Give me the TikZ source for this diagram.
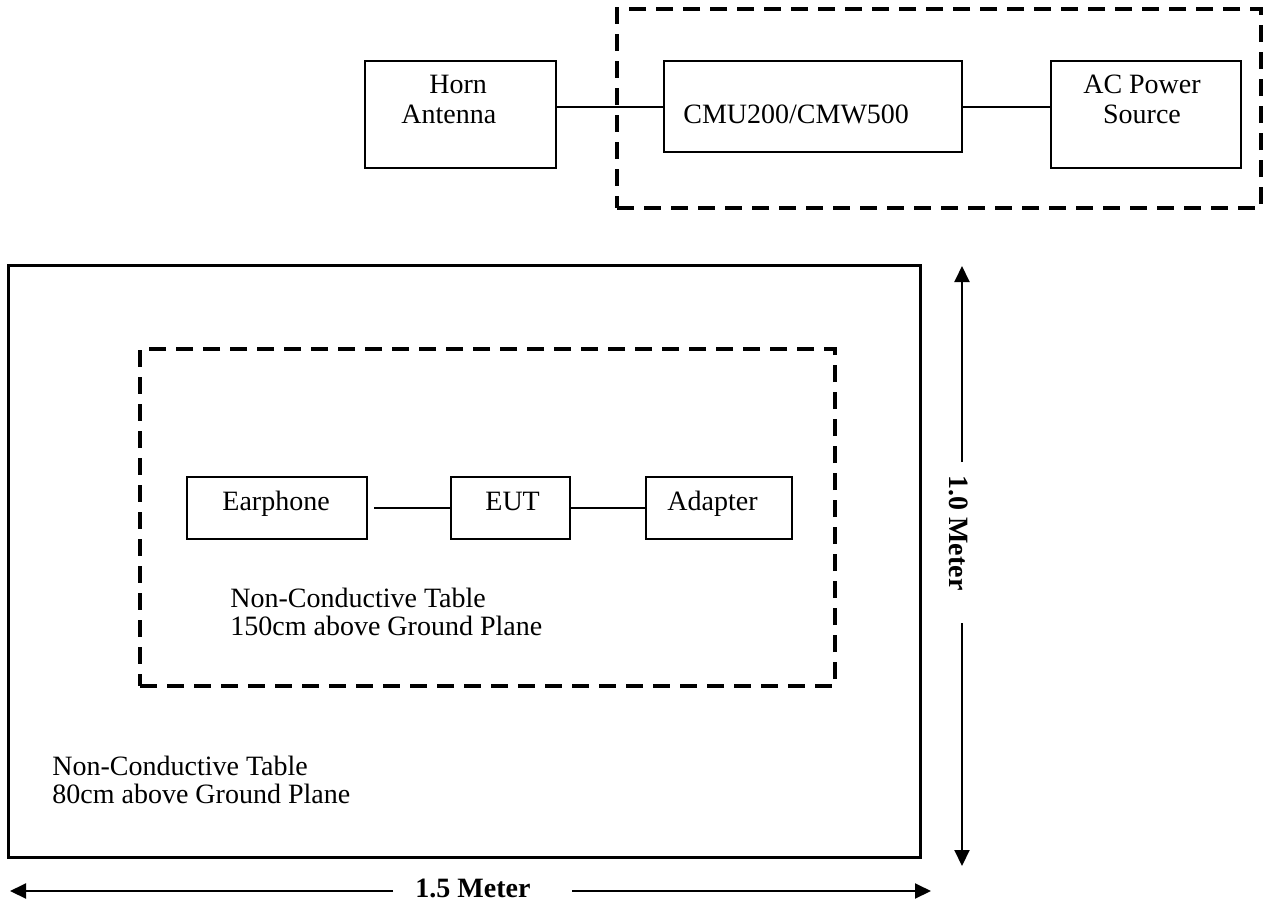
\documentclass[tikz,border=0pt]{standalone}
\usepackage{fontspec}
\setmainfont{Liberation Serif}
\usetikzlibrary{arrows.meta}
\newcommand\stacklines[2][l]{\begin{tabular}[t]{@{}#1@{}}#2\end{tabular}}
\begin{document}
\begin{tikzpicture}[x=0.5pt,y=-0.5pt,
  font=\fontsize{14}{15}\selectfont,
  box/.style={draw,line width=1pt,inner sep=0pt,outer sep=0pt},
  dashbox/.style={draw,line width=1.75pt,dash pattern=on 8.5pt off 5pt,inner sep=0pt,outer sep=0pt},
  tablebox/.style={draw,line width=1.5pt,inner sep=0pt,outer sep=0pt},
  txt/.style={inner sep=0pt,anchor=base west},
  wire/.style={line width=1pt},
  arr/.style={line width=1pt,-{Triangle[width=7.5pt,length=8pt]}},
]
\useasboundingbox (0,0) rectangle (1266,901);

% top set-up
\node[dashbox,minimum width=322pt,minimum height=99.5pt] (rig) at (939,108.5) {};
\node[box,minimum width=95.5pt,minimum height=53.5pt] (horn) at (460.5,114.5) {};
\node[box,minimum width=149pt,minimum height=45.5pt] (cmu) at (813,106.5) {};
\node[box,minimum width=95pt,minimum height=53.5pt] (ac) at (1146,114.5) {};
\node[txt] (horntxt) at (401,93) {\stacklines{\hspace{14pt}Horn\\Antenna}};
\node[txt] (cmutxt) at (683,123) {CMU200/CMW500};
\node[inner sep=0pt,anchor=base] (actxt) at (1142,93) {\stacklines[c]{AC Power\\Source}};
\draw[wire] (horn.east |- cmu.west) -- (cmu.west);
\draw[wire] (cmu.east) -- (cmu.east -| ac.west);

% tables
\node[tablebox,minimum width=456pt,minimum height=296pt] (table80) at (464,561) {};
\node[dashbox,minimum width=347.5pt,minimum height=168.5pt] (table150) at (487.5,517.5) {};

\node[box,minimum width=90pt,minimum height=31pt] (earph) at (277,508) {};
\node[box,minimum width=59.5pt,minimum height=31pt] (eut) at (510.5,508) {};
\node[box,minimum width=73pt,minimum height=31pt] (adapt) at (719,508) {};
\node[txt] (earphtxt) at (222,510) {Earphone};
\node[txt] (euttxt) at (485,510) {EUT};
\node[txt] (adapttxt) at (667,510) {Adapter};
\draw[wire] ([xshift=3.5pt]earph.east) -- (eut.west);
\draw[wire] (eut.east) -- (adapt.west);

\node[txt,font=\fontsize{14}{14}\selectfont] (t150) at (230,607) {\stacklines{Non-Conductive Table\\150cm above Ground Plane}};
\node[txt,font=\fontsize{14}{14}\selectfont] (t80) at (52,775) {\stacklines{Non-Conductive Table\\80cm above Ground Plane}};

% dimensions
\node[txt,font=\fontsize{14}{15}\bfseries] (vlab) at (949,475) [rotate=-90] {1.0 Meter};
\coordinate (vtop) at (962,266);
\coordinate (vg1) at (962,462);
\coordinate (vg2) at (962,623);
\coordinate (vbot) at (962,866);
\draw[arr] (vg1) -- (vtop);
\draw[arr] (vg2) -- (vbot);

\node[txt,font=\fontsize{14}{15}\bfseries] (hlab) at (415,897) {1.5 Meter};
\coordinate (hleft) at (10,891);
\coordinate (hg1) at (393,891);
\coordinate (hg2) at (572,891);
\coordinate (hright) at (931,891);
\draw[arr] (hg1) -- (hleft);
\draw[arr] (hg2) -- (hright);
\end{tikzpicture}
\end{document}
